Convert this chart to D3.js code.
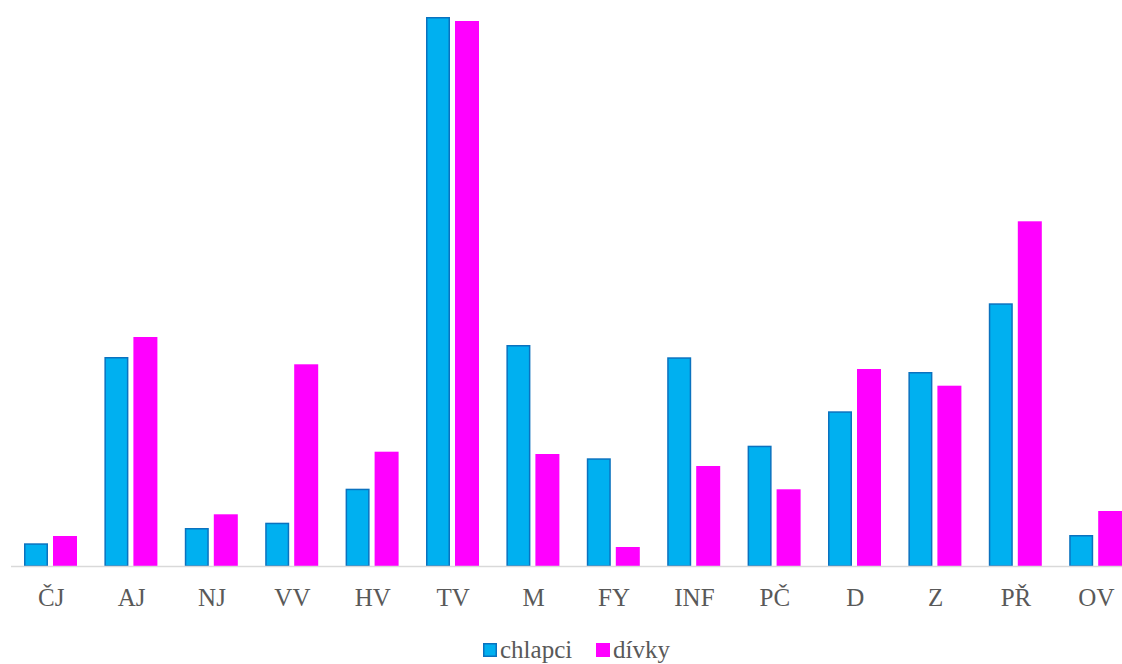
<!DOCTYPE html>
<html>
<head>
<meta charset="utf-8">
<script src="https://cdn.jsdelivr.net/npm/d3@7"></script>
<style>
  html, body { margin: 0; padding: 0; background: #fff; }
  svg { display: block; }
  svg text { font-family: "Liberation Serif", "Times New Roman", Times, "DejaVu Serif", serif !important; fill: #595959; }
</style>
</head>
<body>
<svg id="chart" width="1122" height="664"></svg>
<script>
// Subjects (school subjects) along the x axis
const categories = ["ČJ", "AJ", "NJ", "VV", "HV", "TV", "M", "FY", "INF", "PČ", "D", "Z", "PŘ", "OV"];
const seriesNames = ["chlapci", "dívky"];
const chlapci = [22.7, 209, 38, 43.3, 77.3, 549, 221, 107.7, 208.7, 120.3, 154.7, 194, 262.7, 31];
const divky   = [30, 229, 51.7, 201.7, 114.3, 545, 112, 19, 100, 76.7, 197, 180.3, 344.7, 55];
const seriesValues = [chlapci, divky];

const fills   = ["#00b0f0", "#ff00ff"];
const strokes = ["#0a72bf", "none"];

const svg = d3.select("#chart");
const baseY = 566;

const x0 = d3.scaleBand().domain(categories).range([11, 1136.6]).paddingInner(0).paddingOuter(0);
const x1 = d3.scaleBand().domain(seriesNames).range([13, 66]).paddingInner(5 / 29).paddingOuter(0);
const y = d3.scaleLinear().domain([0, 550]).range([baseY, 16]);

const rows = categories.map((c, i) => ({ cat: c, vals: seriesNames.map((s, k) => ({ s, k, v: seriesValues[k][i] })) }));

const groups = svg.append("g").selectAll("g")
  .data(rows).join("g")
  .attr("transform", d => `translate(${x0(d.cat)},0)`);

groups.selectAll("rect")
  .data(d => d.vals).join("rect")
  .attr("x", d => x1(d.s) + (d.k === 0 ? 0.75 : 0))
  .attr("width", d => x1.bandwidth() - (d.k === 0 ? 1.5 : 0))
  .attr("y", d => y(d.v) + (d.k === 0 ? 0.75 : 0))
  .attr("height", d => baseY - y(d.v) - (d.k === 0 ? 0.75 : 0))
  .attr("fill", d => fills[d.k])
  .attr("stroke", d => strokes[d.k])
  .attr("stroke-width", 1.5);

// Category axis: baseline plus labels, no tick marks
const xAxis = d3.axisBottom(x0).tickSize(0).tickPadding(22);
const axisG = svg.append("g").attr("transform", `translate(0,${baseY})`).call(xAxis);
axisG.attr("font-family", null).attr("font-size", null);
axisG.select(".domain").attr("stroke", "#d9d9d9").attr("stroke-width", 1.5)
  .attr("d", `M11,0.5H1122`);
axisG.selectAll(".tick text")
  .attr("font-size", 25)
  .attr("fill", "#595959");

// Legend
const legendItems = [
  { name: seriesNames[0], x: 483, k: 0 },
  { name: seriesNames[1], x: 596, k: 1 }
];
const lg = svg.append("g");
legendItems.forEach(it => {
  lg.append("rect")
    .attr("x", it.x + (it.k === 0 ? 0.75 : 0))
    .attr("y", 643 + (it.k === 0 ? 0.75 : 0))
    .attr("width", 14 - (it.k === 0 ? 1.5 : 0))
    .attr("height", 14 - (it.k === 0 ? 1.5 : 0))
    .attr("fill", fills[it.k])
    .attr("stroke", strokes[it.k])
    .attr("stroke-width", 1.5);
  lg.append("text")
    .attr("x", it.x + 17)
    .attr("y", 658)
    .attr("font-size", 25)
    .text(it.name);
});
</script>
</body>
</html>
